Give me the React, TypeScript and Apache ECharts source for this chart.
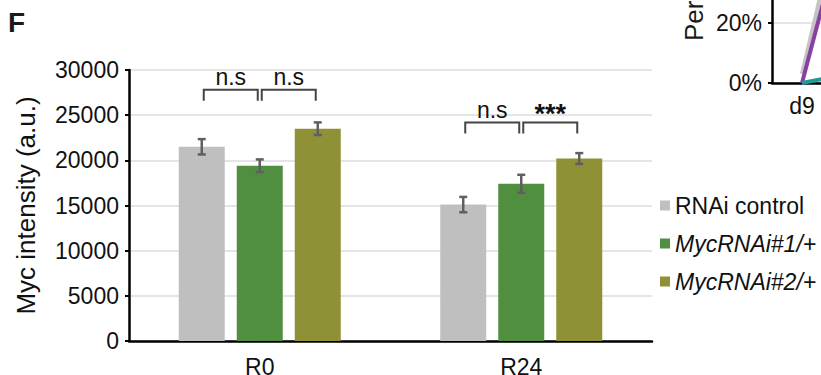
import React, { useEffect, useRef } from "react";
import * as echarts from "echarts";

const FONT = '"Liberation Sans", Arial, Helvetica, sans-serif';

// Main panel data
const categories = ["R0", "R24"];
const seriesNames = ["RNAi control", "MycRNAi#1/+", "MycRNAi#2/+"];
const controlMeans = [21500, 15100];
const myc1Means = [19400, 17400];
const myc2Means = [23500, 20200];
const controlErr = [850, 850];
const myc1Err = [700, 1000];
const myc2Err = [700, 600];
const yTicks = [0, 5000, 10000, 15000, 20000, 25000, 30000];

// Significance brackets: category, first bar, second bar, bracket height, label
const sigCategory = [0, 0, 1, 1];
const sigFrom = [0, 1, 0, 1];
const sigTo = [1, 2, 1, 2];
const sigLevel = [27800, 27800, 24200, 24200];
const sigLabel = ["n.s", "n.s", "n.s", "***"];

// Neighbouring panel (line chart) data
const fragmentDays = ["d9", "d10"];
const fragmentGray = [3, 88];
const fragmentPurple = [0, 76];
const fragmentTeal = [0, 4];

const COLORS = ["#bfbfbf", "#4f8f3f", "#8f9136"];
const BAR_WIDTH = 46;
const BAR_GAP = 12;
const STEP = BAR_WIDTH + BAR_GAP;
const nSeries = seriesNames.length;

function barOffset(s: number) {
  return (s - (nSeries - 1) / 2) * STEP;
}

const meansList = [controlMeans, myc1Means, myc2Means];
const errList = [controlErr, myc1Err, myc2Err];

const errData: number[][] = [];
meansList.forEach((m, s) => {
  m.forEach((v, c) => errData.push([c, s, v, errList[s][c]]));
});

const sigData = sigCategory.map((c, i) => [c, sigFrom[i], sigTo[i], sigLevel[i]]);

export default function App() {
  const ref = useRef<HTMLDivElement>(null);

  useEffect(() => {
    const chart = echarts.init(ref.current!, null, { renderer: "svg" });

    const option: any = {
      animation: false,
      textStyle: { fontFamily: FONT },
      graphic: [
        {
          type: "text",
          left: 8,
          top: 8,
          style: { text: "F", fontSize: 28, fontWeight: "bold", fill: "#1a1a1a", fontFamily: FONT },
        },
        {
          type: "text",
          x: 694,
          y: 41,
          rotation: Math.PI / 2,
          style: {
            text: "Percentage",
            fontSize: 26,
            fill: "#1a1a1a",
            fontFamily: FONT,
            align: "left",
            verticalAlign: "middle",
          },
        },
      ],
      legend: {
        data: seriesNames,
        orient: "vertical",
        left: 655,
        top: 189,
        itemWidth: 10,
        itemHeight: 10,
        itemGap: 15,
        icon: "rect",
        formatter: (name: string) => (name === "RNAi control" ? name : `{it|${name}}`),
        textStyle: {
          fontSize: 23,
          lineHeight: 23,
          color: "#111",
          fontFamily: FONT,
          rich: { it: { fontStyle: "italic", fontSize: 23, color: "#111", fontFamily: FONT } },
        },
      },
      grid: [
        { left: 129, right: 169, top: 70, bottom: 34, outerBoundsMode: "none" },
        { left: 772, top: -217, height: 300, width: 120, outerBoundsMode: "none" },
      ],
      xAxis: [
        {
          type: "category",
          gridIndex: 0,
          data: categories,
          axisLine: { lineStyle: { color: "#000", width: 2.5 } },
          axisTick: { show: false },
          axisLabel: { fontSize: 23, color: "#111", margin: 14, fontFamily: FONT },
        },
        {
          type: "category",
          gridIndex: 1,
          data: fragmentDays,
          axisLine: { lineStyle: { color: "#000", width: 2.5 } },
          axisTick: { show: false },
          axisLabel: { fontSize: 23, color: "#111", margin: 11, fontFamily: FONT },
        },
      ],
      yAxis: [
        {
          type: "value",
          gridIndex: 0,
          min: yTicks[0],
          max: yTicks[yTicks.length - 1],
          interval: yTicks[1] - yTicks[0],
          name: "Myc intensity (a.u.)",
          nameLocation: "middle",
          nameGap: 90,
          nameTextStyle: { fontSize: 26, color: "#111", fontFamily: FONT },
          axisLine: { show: true, lineStyle: { color: "#000", width: 2.5 } },
          axisTick: { show: true, length: 4, lineStyle: { color: "#000", width: 2 } },
          axisLabel: {
            fontSize: 23,
            color: "#111",
            margin: 10,
            fontFamily: FONT,
            formatter: (v: number) => String(v),
          },
          splitLine: { lineStyle: { color: "#dcdcdc", width: 1.5 } },
        },
        {
          type: "value",
          gridIndex: 1,
          min: 0,
          max: 100,
          interval: 20,
          axisLine: { show: true, lineStyle: { color: "#000", width: 2.5 } },
          axisTick: { show: true, length: 4, lineStyle: { color: "#000", width: 2 } },
          axisLabel: { fontSize: 23, color: "#111", margin: 10, formatter: "{value}%", fontFamily: FONT },
          splitLine: { lineStyle: { color: "#dcdcdc", width: 1.5 } },
        },
      ],
      series: [
        ...seriesNames.map((name, s) => ({
          type: "bar",
          name,
          xAxisIndex: 0,
          yAxisIndex: 0,
          data: meansList[s],
          barWidth: BAR_WIDTH,
          barGap: `${(BAR_GAP / BAR_WIDTH) * 100}%`,
          itemStyle: { color: COLORS[s] },
          silent: true,
        })),
        {
          type: "custom",
          name: "error",
          xAxisIndex: 0,
          yAxisIndex: 0,
          data: errData,
          encode: { x: 0, y: 2 },
          z: 10,
          silent: true,
          renderItem: (params: any, api: any) => {
            const c = api.value(0);
            const s = api.value(1);
            const m = api.value(2);
            const e = api.value(3);
            const hi = api.coord([c, m + e]);
            const lo = api.coord([c, m - e]);
            const x = hi[0] + barOffset(s);
            const st = { stroke: "#5f5f5f", lineWidth: 2.5 };
            const cap = 4;
            return {
              type: "group",
              children: [
                { type: "line", shape: { x1: x, y1: hi[1], x2: x, y2: lo[1] }, style: st },
                { type: "line", shape: { x1: x - cap, y1: hi[1], x2: x + cap, y2: hi[1] }, style: st },
                { type: "line", shape: { x1: x - cap, y1: lo[1], x2: x + cap, y2: lo[1] }, style: st },
              ],
            };
          },
        },
        {
          type: "custom",
          name: "significance",
          xAxisIndex: 0,
          yAxisIndex: 0,
          data: sigData,
          encode: { x: 0, y: 3 },
          z: 10,
          silent: true,
          renderItem: (params: any, api: any) => {
            const c = api.value(0);
            const a = api.value(1);
            const b = api.value(2);
            const lvl = api.value(3);
            const p = api.coord([c, lvl]);
            const x1 = p[0] + barOffset(a) + 2;
            const x2 = p[0] + barOffset(b) - 2;
            const y = p[1];
            const leg = 11;
            const label = sigLabel[params.dataIndex];
            const stars = label.indexOf("*") >= 0;
            return {
              type: "group",
              children: [
                {
                  type: "polyline",
                  shape: { points: [[x1, y + leg], [x1, y], [x2, y], [x2, y + leg]] },
                  style: { stroke: "#444", lineWidth: 2, fill: "none" },
                },
                {
                  type: "text",
                  x: (x1 + x2) / 2,
                  y: stars ? y + 5 : y - 1,
                  style: {
                    text: label,
                    align: "center",
                    verticalAlign: "bottom",
                    fontSize: stars ? 27 : 23,
                    fontWeight: stars ? "bold" : "normal",
                    fill: "#111",
                    fontFamily: FONT,
                  },
                },
              ],
            };
          },
        },
        {
          type: "line",
          name: "fragGray",
          xAxisIndex: 1,
          yAxisIndex: 1,
          data: fragmentGray,
          symbol: "none",
          lineStyle: { color: "#c4c4c4", width: 4 },
          silent: true,
        },
        {
          type: "line",
          name: "fragPurple",
          xAxisIndex: 1,
          yAxisIndex: 1,
          data: fragmentPurple,
          symbol: "none",
          lineStyle: { color: "#8a3fa3", width: 4 },
          silent: true,
        },
        {
          type: "line",
          name: "fragTeal",
          xAxisIndex: 1,
          yAxisIndex: 1,
          data: fragmentTeal,
          symbol: "none",
          lineStyle: { color: "#1f9a96", width: 4 },
          silent: true,
        },
      ],
    };

    chart.setOption(option);
    return () => chart.dispose();
  }, []);

  return (
    <div
      ref={ref}
      style={{ position: "fixed", left: 0, top: 0, width: 821, height: 375, background: "#fff" }}
    />
  );
}
